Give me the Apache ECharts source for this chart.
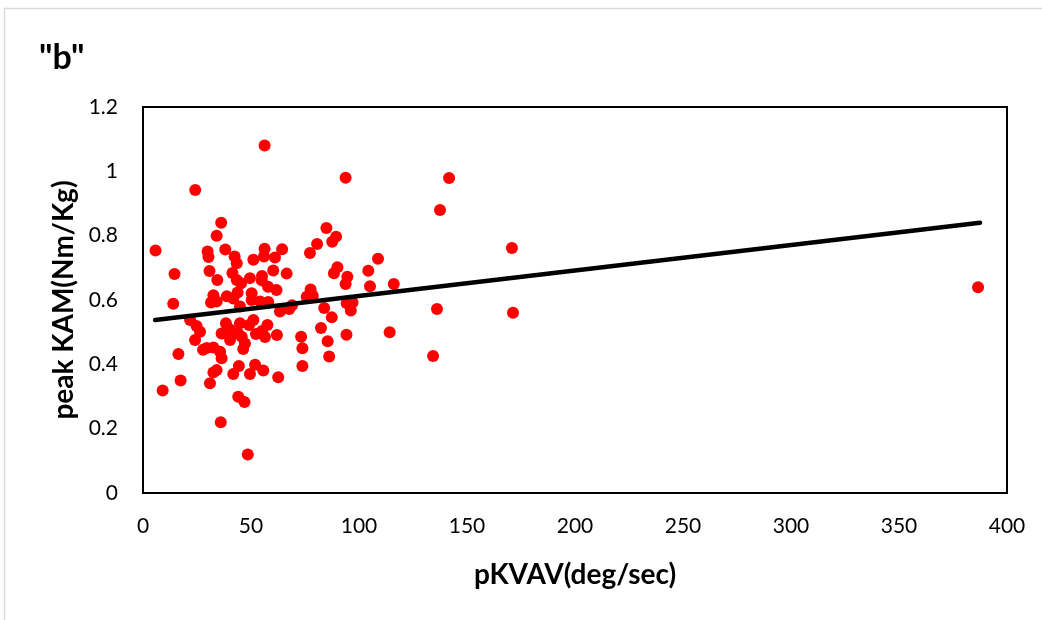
<!DOCTYPE html>
<html>
<head>
<meta charset="utf-8">
<script src="https://cdn.jsdelivr.net/npm/echarts@6/dist/echarts.min.js"></script>
<style>
  html, body { margin: 0; padding: 0; background: #fff; }
  #chart { width: 1042px; height: 620px; }
</style>
</head>
<body>
<div id="chart"></div>
<script>
// Peak knee varus angular velocity (deg/sec) for each subject
const pkvav = [
  5.8, 9.1, 14.6, 14.0, 16.4, 17.4, 24.2, 56.3, 36.0, 48.5,
  44.1, 47.0, 31.0, 93.8, 141.7, 137.5, 170.8, 171.3, 136.1, 134.3,
  114.2, 116.1, 386.6, 108.8, 104.3, 105.1, 84.9, 89.4, 87.6, 80.6,
  77.3, 56.3, 56.0, 64.4, 61.1, 60.3, 66.5, 90.0, 88.4, 94.6,
  93.8, 55.0, 57.9, 61.8, 77.6, 75.8, 78.6, 54.2, 58.0, 63.4,
  69.0, 67.7, 83.9, 87.4, 94.3, 97.0, 96.2, 57.6, 52.3, 55.1,
  56.5, 62.0, 73.2, 73.8, 82.4, 85.5, 94.2, 86.2, 73.8, 55.7,
  62.6, 36.2, 34.1, 29.9, 30.3, 38.1, 42.4, 51.1, 43.4, 30.8,
  34.4, 41.4, 43.4, 49.5, 45.4, 55.1, 32.6, 31.5, 38.8, 43.8,
  41.8, 44.9, 50.3, 50.3, 34.1, 21.8, 24.8, 26.4, 24.1, 38.4,
  40.3, 36.4, 44.9, 49.1, 51.1, 44.1, 45.7, 47.2, 46.4, 40.3,
  32.6, 35.7, 36.4, 29.5, 27.8, 34.1, 32.6, 41.8, 44.4, 49.5,
  51.9
];

// Peak knee adduction moment (Nm/Kg) for the same subjects
const peakKam = [
  0.754, 0.319, 0.681, 0.588, 0.432, 0.350, 0.942, 1.080, 0.220, 0.120,
  0.299, 0.283, 0.341, 0.980, 0.979, 0.880, 0.762, 0.560, 0.572, 0.426,
  0.500, 0.650, 0.640, 0.728, 0.691, 0.643, 0.824, 0.797, 0.781, 0.774,
  0.746, 0.759, 0.735, 0.758, 0.732, 0.692, 0.682, 0.702, 0.683, 0.672,
  0.650, 0.661, 0.641, 0.631, 0.633, 0.610, 0.613, 0.595, 0.594, 0.564,
  0.584, 0.572, 0.575, 0.546, 0.590, 0.592, 0.567, 0.522, 0.494, 0.504,
  0.485, 0.491, 0.486, 0.450, 0.513, 0.472, 0.492, 0.424, 0.395, 0.381,
  0.360, 0.840, 0.800, 0.751, 0.734, 0.757, 0.735, 0.725, 0.714, 0.690,
  0.662, 0.684, 0.662, 0.668, 0.652, 0.675, 0.615, 0.592, 0.612, 0.623,
  0.605, 0.580, 0.621, 0.600, 0.595, 0.538, 0.519, 0.501, 0.476, 0.528,
  0.508, 0.496, 0.528, 0.522, 0.538, 0.496, 0.486, 0.465, 0.448, 0.476,
  0.452, 0.439, 0.419, 0.451, 0.445, 0.382, 0.375, 0.370, 0.395, 0.370,
  0.399
];

// Linear trend line end points
const trendX = [5.6, 387.5];
const trendY = [0.538, 0.840];

// Axis tick settings
const xTicks = { min: 0, max: 400, interval: 50 };
const yTicks = { min: 0, max: 1.2, interval: 0.2 };

const points = pkvav.map((x, i) => [x, peakKam[i]]);
const trend = trendX.map((x, i) => [x, trendY[i]]);

const FONT = 'Lato, "Open Sans", sans-serif';

const chart = echarts.init(document.getElementById('chart'), null, { renderer: 'canvas' });
chart.setOption({
  animation: false,
  backgroundColor: '#ffffff',
  title: {
    text: '"b"',
    left: 34,
    top: 36,
    textStyle: { fontFamily: FONT, fontSize: 34, fontWeight: 'bold', color: '#000' }
  },
  graphic: [{
    type: 'rect',
    shape: { x: 4.5, y: 8.5, width: 1060, height: 640 },
    style: { fill: 'none', stroke: '#d9d9d9', lineWidth: 1.5 },
    silent: true,
    z: -1
  }],
  grid: {
    left: 143,
    top: 107,
    right: 35,
    bottom: 127,
    show: true,
    borderColor: '#000',
    borderWidth: 2,
    backgroundColor: 'transparent'
  },
  xAxis: {
    type: 'value',
    min: xTicks.min,
    max: xTicks.max,
    interval: xTicks.interval,
    name: 'pKVAV(deg/sec)',
    nameLocation: 'middle',
    nameGap: 68,
    nameTextStyle: { fontFamily: FONT, fontSize: 28, fontWeight: 'bold', color: '#000' },
    axisLine: { show: true, onZero: false, lineStyle: { color: '#000', width: 2 } },
    axisTick: { show: false },
    splitLine: { show: false },
    axisLabel: { fontFamily: FONT, fontSize: 21, color: '#000', margin: 23 }
  },
  yAxis: {
    type: 'value',
    min: yTicks.min,
    max: yTicks.max,
    interval: yTicks.interval,
    name: 'peak KAM(Nm/Kg)',
    nameLocation: 'middle',
    nameGap: 62,
    nameRotate: 90,
    nameTextStyle: { fontFamily: FONT, fontSize: 28, fontWeight: 'bold', color: '#000' },
    axisLine: { show: true, onZero: false, lineStyle: { color: '#000', width: 2 } },
    axisTick: { show: false },
    splitLine: { show: false },
    axisLabel: {
      fontFamily: FONT, fontSize: 21, color: '#000', margin: 25,
      formatter: v => String(Math.round(v * 10) / 10)
    }
  },
  series: [
    {
      type: 'scatter',
      data: points,
      symbol: 'circle',
      symbolSize: 12,
      itemStyle: { color: '#ff0000', opacity: 1 },
      z: 2
    },
    {
      type: 'line',
      data: trend,
      symbol: 'none',
      lineStyle: { color: '#000', width: 4.5, cap: 'round' },
      z: 3
    }
  ]
});
</script>
</body>
</html>
